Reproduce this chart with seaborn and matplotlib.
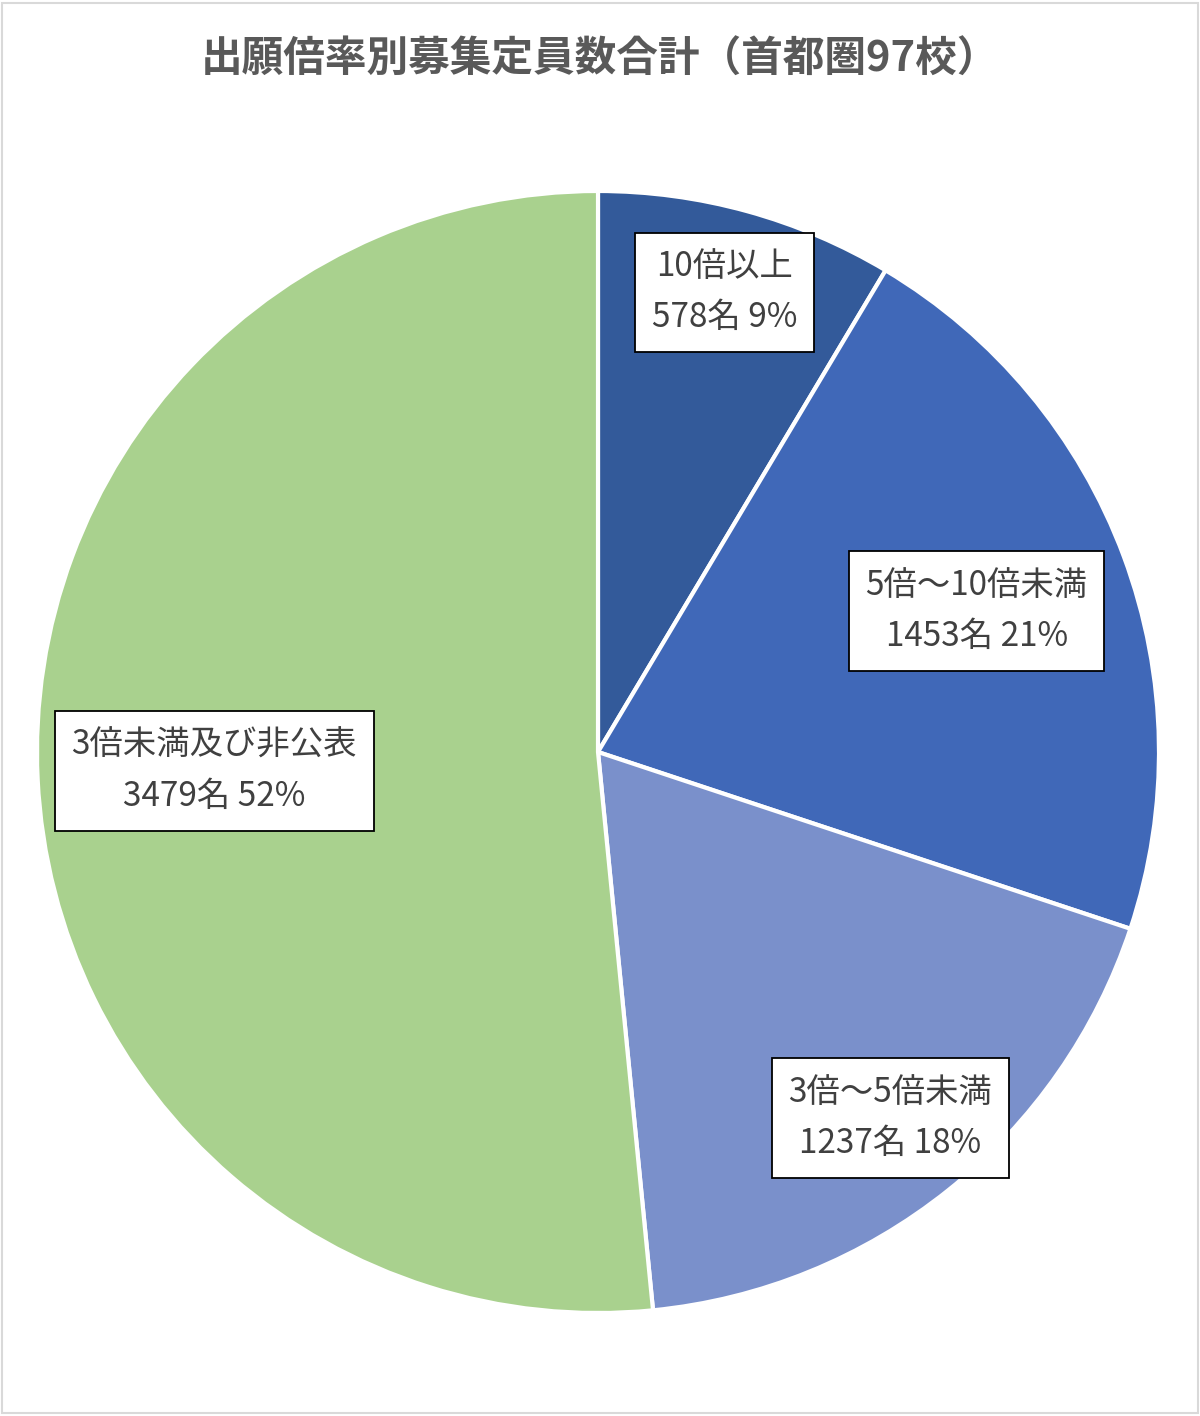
import numpy as np
import matplotlib
matplotlib.use("Agg")
import matplotlib.pyplot as plt
import seaborn as sns

# ----------------------------------------------------------------------------------
# Data
# ----------------------------------------------------------------------------------
title = "出願倍率別募集定員数合計（首都圏97校）"
categories = ["10倍以上", "5倍～10倍未満", "3倍～5倍未満", "3倍未満及び非公表"]
counts = [578, 1453, 1237, 3479]
pct_labels = ["9%", "21%", "18%", "52%"]

colors = ["#335A9A", "#4068B8", "#7A90CB", "#A9D18E"]
label_radius = [0.85, 0.72, 0.835, 0.685]

# ----------------------------------------------------------------------------------
# Plot
# ----------------------------------------------------------------------------------
sns.set_theme(style="white")
plt.rcParams["font.family"] = ["Noto Sans CJK JP", "DejaVu Sans"]

W, H = 1200, 1416
fig = plt.figure(figsize=(W / 100, H / 100), dpi=100)
fig.patch.set_facecolor("white")

# thin frame around the chart area
fig.add_artist(plt.Rectangle((0.002, 0.002), 0.996, 0.996, transform=fig.transFigure,
                             fill=False, edgecolor="#D9D9D9", linewidth=1.5))

cx, cy, r = 598, 752, 561
ax = fig.add_axes([(cx - r) / W, (H - cy - r) / H, 2 * r / W, 2 * r / H])

wedges, _ = ax.pie(counts, colors=colors, startangle=90, counterclock=False,
                   radius=1, wedgeprops=dict(edgecolor="white", linewidth=3))
ax.set_xlim(-1, 1)
ax.set_ylim(-1, 1)
ax.axis("off")

for w, cat, n, p, rr in zip(wedges, categories, counts, pct_labels, label_radius):
    ang = np.deg2rad((w.theta1 + w.theta2) / 2)
    ax.text(rr * np.cos(ang), rr * np.sin(ang), f"{cat}\n{n}名 {p}",
            ha="center", va="center", multialignment="center",
            fontsize=24, color="#404040", linespacing=1.6,
            bbox=dict(boxstyle="square,pad=0.5", facecolor="white",
                      edgecolor="black", linewidth=1.3))

fig.text(0.5, 1 - 60 / H, title, ha="center", va="center", fontsize=30,
         fontweight="bold", color="#595959")

fig.savefig("out.png", dpi=100)
